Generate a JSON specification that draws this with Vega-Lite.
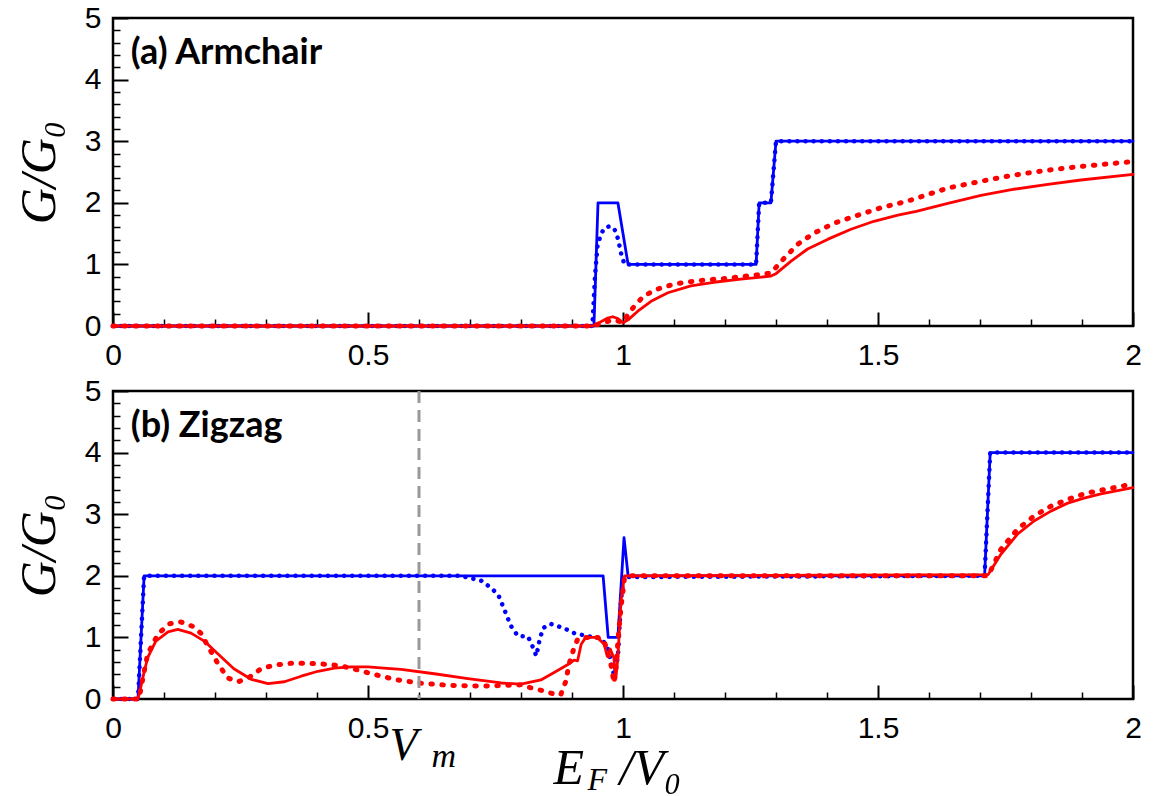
{
  "$schema": "https://vega.github.io/schema/vega-lite/v6.json",
  "background": "white",
  "padding": {"left": 13, "top": 1, "right": 20, "bottom": 4},
  "spacing": 65,
  "bounds": "flush",
  "datasets": {
    "a_bs": [{"x":0,"y":0},{"x":0.943,"y":0},{"x":0.951,"y":2},{"x":0.99,"y":2},{"x":1.01,"y":1},{"x":1.261,"y":1},{"x":1.267,"y":2},{"x":1.29,"y":2},{"x":1.3,"y":3},{"x":2,"y":3}],
    "a_bd": [{"x":0,"y":0},{"x":0.94,"y":0},{"x":0.945,"y":0.8},{"x":0.95,"y":1.3},{"x":0.957,"y":1.5},{"x":0.965,"y":1.6},{"x":0.975,"y":1.62},{"x":0.983,"y":1.58},{"x":0.99,"y":1.42},{"x":0.997,"y":1.15},{"x":1.003,"y":1.0},{"x":1.261,"y":1},{"x":1.267,"y":2},{"x":1.29,"y":2},{"x":1.3,"y":3},{"x":2,"y":3}],
    "a_rs": [{"x":0,"y":0},{"x":0.94,"y":0},{"x":0.955,"y":0.06},{"x":0.97,"y":0.13},{"x":0.98,"y":0.15},{"x":0.99,"y":0.12},{"x":1.0,"y":0.05},{"x":1.01,"y":0.1},{"x":1.029,"y":0.24},{"x":1.055,"y":0.4},{"x":1.088,"y":0.54},{"x":1.133,"y":0.65},{"x":1.178,"y":0.71},{"x":1.231,"y":0.76},{"x":1.29,"y":0.81},{"x":1.3,"y":0.85},{"x":1.329,"y":1.05},{"x":1.362,"y":1.25},{"x":1.402,"y":1.41},{"x":1.447,"y":1.57},{"x":1.492,"y":1.7},{"x":1.539,"y":1.8},{"x":1.575,"y":1.86},{"x":1.637,"y":1.99},{"x":1.702,"y":2.12},{"x":1.767,"y":2.22},{"x":1.833,"y":2.3},{"x":1.898,"y":2.37},{"x":2,"y":2.46}],
    "a_rd": [{"x":0,"y":0},{"x":0.94,"y":0},{"x":0.96,"y":0.05},{"x":0.98,"y":0.1},{"x":1.0,"y":0.06},{"x":1.01,"y":0.19},{"x":1.022,"y":0.32},{"x":1.041,"y":0.49},{"x":1.068,"y":0.6},{"x":1.1,"y":0.68},{"x":1.133,"y":0.72},{"x":1.166,"y":0.75},{"x":1.198,"y":0.77},{"x":1.231,"y":0.8},{"x":1.264,"y":0.83},{"x":1.29,"y":0.86},{"x":1.316,"y":1.1},{"x":1.343,"y":1.33},{"x":1.375,"y":1.51},{"x":1.414,"y":1.67},{"x":1.461,"y":1.8},{"x":1.506,"y":1.92},{"x":1.559,"y":2.03},{"x":1.637,"y":2.24},{"x":1.702,"y":2.35},{"x":1.767,"y":2.45},{"x":1.833,"y":2.53},{"x":1.898,"y":2.59},{"x":2,"y":2.67}],
    "b_bs": [{"x":0,"y":0},{"x":0.049,"y":0},{"x":0.061,"y":2},{"x":0.961,"y":2},{"x":0.971,"y":1},{"x":0.99,"y":1},{"x":1.002,"y":2.62},{"x":1.01,"y":2},{"x":1.709,"y":2},{"x":1.72,"y":4},{"x":2,"y":4}],
    "b_bd": [{"x":0,"y":0},{"x":0.049,"y":0},{"x":0.061,"y":2},{"x":0.68,"y":2},{"x":0.702,"y":1.96},{"x":0.722,"y":1.92},{"x":0.737,"y":1.83},{"x":0.755,"y":1.7},{"x":0.767,"y":1.46},{"x":0.78,"y":1.19},{"x":0.794,"y":1.02},{"x":0.813,"y":1.02},{"x":0.82,"y":0.91},{"x":0.83,"y":0.7},{"x":0.836,"y":0.94},{"x":0.843,"y":1.15},{"x":0.858,"y":1.22},{"x":0.884,"y":1.15},{"x":0.904,"y":1.07},{"x":0.931,"y":1.02},{"x":0.957,"y":0.99},{"x":0.97,"y":0.83},{"x":0.976,"y":0.62},{"x":0.982,"y":0.4},{"x":0.99,"y":0.67},{"x":0.996,"y":1.59},{"x":1.001,"y":1.98},{"x":1.709,"y":2},{"x":1.72,"y":4},{"x":2,"y":4}],
    "b_rs": [{"x":0,"y":0},{"x":0.049,"y":0},{"x":0.052,"y":0.1},{"x":0.06,"y":0.4},{"x":0.068,"y":0.67},{"x":0.084,"y":0.94},{"x":0.108,"y":1.09},{"x":0.127,"y":1.13},{"x":0.153,"y":1.07},{"x":0.179,"y":0.94},{"x":0.206,"y":0.73},{"x":0.237,"y":0.49},{"x":0.271,"y":0.32},{"x":0.304,"y":0.25},{"x":0.336,"y":0.28},{"x":0.369,"y":0.37},{"x":0.402,"y":0.45},{"x":0.434,"y":0.5},{"x":0.467,"y":0.52},{"x":0.5,"y":0.52},{"x":0.531,"y":0.5},{"x":0.565,"y":0.48},{"x":0.63,"y":0.41},{"x":0.696,"y":0.33},{"x":0.761,"y":0.26},{"x":0.8,"y":0.24},{"x":0.839,"y":0.31},{"x":0.865,"y":0.43},{"x":0.892,"y":0.56},{"x":0.904,"y":0.63},{"x":0.911,"y":0.62},{"x":0.918,"y":0.89},{"x":0.927,"y":1.0},{"x":0.95,"y":1.0},{"x":0.963,"y":0.89},{"x":0.969,"y":0.7},{"x":0.975,"y":0.81},{"x":0.982,"y":0.67},{"x":0.986,"y":0.34},{"x":0.99,"y":0.67},{"x":0.996,"y":1.59},{"x":1.003,"y":2.0},{"x":1.716,"y":2.02},{"x":1.741,"y":2.35},{"x":1.774,"y":2.68},{"x":1.806,"y":2.89},{"x":1.839,"y":3.05},{"x":1.872,"y":3.18},{"x":1.904,"y":3.26},{"x":1.937,"y":3.33},{"x":2,"y":3.43}],
    "b_rd": [{"x":0,"y":0},{"x":0.051,"y":0},{"x":0.06,"y":0.4},{"x":0.068,"y":0.73},{"x":0.088,"y":1.05},{"x":0.11,"y":1.22},{"x":0.133,"y":1.25},{"x":0.156,"y":1.18},{"x":0.172,"y":1.07},{"x":0.188,"y":0.83},{"x":0.206,"y":0.57},{"x":0.225,"y":0.34},{"x":0.245,"y":0.28},{"x":0.265,"y":0.34},{"x":0.29,"y":0.49},{"x":0.316,"y":0.55},{"x":0.349,"y":0.58},{"x":0.375,"y":0.58},{"x":0.408,"y":0.57},{"x":0.447,"y":0.54},{"x":0.48,"y":0.47},{"x":0.512,"y":0.4},{"x":0.551,"y":0.32},{"x":0.598,"y":0.26},{"x":0.663,"y":0.22},{"x":0.727,"y":0.21},{"x":0.8,"y":0.23},{"x":0.82,"y":0.18},{"x":0.845,"y":0.13},{"x":0.865,"y":0.08},{"x":0.878,"y":0.07},{"x":0.888,"y":0.29},{"x":0.894,"y":0.56},{"x":0.904,"y":0.83},{"x":0.911,"y":0.97},{"x":0.924,"y":1.0},{"x":0.95,"y":1.0},{"x":0.963,"y":0.94},{"x":0.971,"y":0.73},{"x":0.978,"y":0.5},{"x":0.982,"y":0.26},{"x":0.986,"y":0.45},{"x":0.99,"y":0.94},{"x":0.996,"y":1.48},{"x":1.003,"y":1.97},{"x":1.01,"y":2.0},{"x":1.716,"y":2.0},{"x":1.741,"y":2.43},{"x":1.774,"y":2.76},{"x":1.806,"y":2.97},{"x":1.839,"y":3.13},{"x":1.872,"y":3.24},{"x":1.904,"y":3.33},{"x":1.937,"y":3.39},{"x":2,"y":3.49}],
    "labels_a": [{"x":0.035,"y":4.25,"label":"(a) Armchair"}],
    "labels_b": [{"x":0.035,"y":4.25,"label":"(b) Zigzag"}],
    "vm": [{"x":0.6}]
  },
  "vconcat": [
    {
      "width": 1020,
      "height": 308,
      "resolve": {"axis": {"x": "independent", "y": "independent"}},
      "layer": [
        {
          "data": {"name": "a_bs"},
          "mark": {"type": "line", "color": "#0000ff", "strokeWidth": 2.8, "strokeCap": "round", "strokeJoin": "round"},
          "encoding": {
            "x": {"field": "x", "type": "quantitative", "scale": {"domain": [0, 2]},
                  "axis": {"orient": "bottom", "values": [0, 0.5, 1, 1.5, 2], "format": "~g", "offset": -14, "tickSize": 14, "tickWidth": 2, "labelPadding": 14, "labelFlush": false, "title": null}},
            "y": {"field": "y", "type": "quantitative", "scale": {"domain": [0, 5]},
                  "axis": {"orient": "left", "values": [0, 1, 2, 3, 4, 5], "format": "~g", "offset": -15, "tickSize": 15, "tickWidth": 2, "labelPadding": 12, "title": "G/G₀", "titleFont": "Liberation Serif", "titleFontStyle": "italic", "titleFontWeight": "normal", "titleFontSize": 50, "titlePadding": 20}}
          }
        },
        {
          "data": {"name": "a_bd"},
          "mark": {"type": "line", "color": "#0000ff", "strokeWidth": 4.5, "strokeDash": [0.1, 8], "strokeCap": "round"},
          "encoding": {
            "x": {"field": "x", "type": "quantitative", "scale": {"domain": [0, 2]},
                  "axis": {"orient": "bottom", "values": [0.1,0.2,0.3,0.4,0.6,0.7,0.8,0.9,1.1,1.2,1.3,1.4,1.6,1.7,1.8,1.9], "offset": -7, "tickSize": 7, "tickWidth": 1.5, "labels": false, "title": null}},
            "y": {"field": "y", "type": "quantitative", "scale": {"domain": [0, 5]},
                  "axis": {"orient": "left", "values": [0.2,0.4,0.6,0.8,1.2,1.4,1.6,1.8,2.2,2.4,2.6,2.8,3.2,3.4,3.6,3.8,4.2,4.4,4.6,4.8], "offset": -7, "tickSize": 7, "tickWidth": 1.5, "labels": false, "title": null}}
          }
        },
        {
          "data": {"name": "a_rs"},
          "mark": {"type": "line", "color": "#ff0000", "strokeWidth": 2.8, "strokeCap": "round", "strokeJoin": "round"},
          "encoding": {
            "x": {"field": "x", "type": "quantitative", "scale": {"domain": [0, 2]}, "axis": null},
            "y": {"field": "y", "type": "quantitative", "scale": {"domain": [0, 5]}, "axis": null}
          }
        },
        {
          "data": {"name": "a_rd"},
          "mark": {"type": "line", "color": "#ff0000", "strokeWidth": 5, "strokeDash": [1.5, 9.5], "strokeCap": "round"},
          "encoding": {
            "x": {"field": "x", "type": "quantitative", "scale": {"domain": [0, 2]}, "axis": null},
            "y": {"field": "y", "type": "quantitative", "scale": {"domain": [0, 5]}, "axis": null}
          }
        },
        {
          "data": {"name": "labels_a"},
          "mark": {"type": "text", "align": "left", "baseline": "alphabetic", "font": "Lato", "fontWeight": "bold", "fontSize": 36, "color": "black"},
          "encoding": {
            "x": {"field": "x", "type": "quantitative", "scale": {"domain": [0, 2]}, "axis": null},
            "y": {"field": "y", "type": "quantitative", "scale": {"domain": [0, 5]}, "axis": null},
            "text": {"field": "label"}
          }
        }
      ]
    },
    {
      "width": 1020,
      "height": 308,
      "resolve": {"axis": {"x": "independent", "y": "independent"}},
      "layer": [
        {
          "data": {"name": "b_bs"},
          "mark": {"type": "line", "color": "#0000ff", "strokeWidth": 2.8, "strokeCap": "round", "strokeJoin": "round"},
          "encoding": {
            "x": {"field": "x", "type": "quantitative", "scale": {"domain": [0, 2]},
                  "axis": {"orient": "bottom", "values": [0, 0.5, 1, 1.5, 2], "format": "~g", "offset": -14, "tickSize": 14, "tickWidth": 2, "labelPadding": 14, "labelFlush": false,
                           "title": "E", "titleFont": "Liberation Serif", "titleFontStyle": "italic", "titleFontWeight": "normal", "titleFontSize": 50, "titleAlign": "left", "titleBaseline": "alphabetic", "titleX": 440, "titleY": 98}},
            "y": {"field": "y", "type": "quantitative", "scale": {"domain": [0, 5]},
                  "axis": {"orient": "left", "values": [0, 1, 2, 3, 4, 5], "format": "~g", "offset": -15, "tickSize": 15, "tickWidth": 2, "labelPadding": 12, "title": "G/G₀", "titleFont": "Liberation Serif", "titleFontStyle": "italic", "titleFontWeight": "normal", "titleFontSize": 50, "titlePadding": 20}}
          }
        },
        {
          "data": {"name": "b_bd"},
          "mark": {"type": "line", "color": "#0000ff", "strokeWidth": 4.5, "strokeDash": [0.1, 8], "strokeCap": "round"},
          "encoding": {
            "x": {"field": "x", "type": "quantitative", "scale": {"domain": [0, 2]},
                  "axis": {"orient": "bottom", "values": [0.1,0.2,0.3,0.4,0.6,0.7,0.8,0.9,1.1,1.2,1.3,1.4,1.6,1.7,1.8,1.9], "offset": -7, "tickSize": 7, "tickWidth": 1.5, "labels": false, "title": null}},
            "y": {"field": "y", "type": "quantitative", "scale": {"domain": [0, 5]},
                  "axis": {"orient": "left", "values": [0.2,0.4,0.6,0.8,1.2,1.4,1.6,1.8,2.2,2.4,2.6,2.8,3.2,3.4,3.6,3.8,4.2,4.4,4.6,4.8], "offset": -7, "tickSize": 7, "tickWidth": 1.5, "labels": false, "title": null}}
          }
        },
        {
          "data": {"name": "b_rs"},
          "mark": {"type": "line", "color": "#ff0000", "strokeWidth": 2.8, "strokeCap": "round", "strokeJoin": "round"},
          "encoding": {
            "x": {"field": "x", "type": "quantitative", "scale": {"domain": [0, 2]}, "axis": null},
            "y": {"field": "y", "type": "quantitative", "scale": {"domain": [0, 5]}, "axis": null}
          }
        },
        {
          "data": {"name": "b_rd"},
          "mark": {"type": "line", "color": "#ff0000", "strokeWidth": 5, "strokeDash": [1.5, 9.5], "strokeCap": "round"},
          "encoding": {
            "x": {"field": "x", "type": "quantitative", "scale": {"domain": [0, 2]}, "axis": null},
            "y": {"field": "y", "type": "quantitative", "scale": {"domain": [0, 5]}, "axis": null}
          }
        },
        {
          "data": {"name": "vm"},
          "mark": {"type": "rule", "color": "#999999", "strokeWidth": 3, "strokeDash": [12, 7]},
          "encoding": {
            "x": {"field": "x", "type": "quantitative", "scale": {"domain": [0, 2]},
                  "axis": {"orient": "bottom", "values": [0.6], "ticks": false, "domain": false, "labelExpr": "'V'", "labelFont": "Liberation Serif", "labelFontStyle": "italic", "labelFontSize": 46, "labelAlign": "left", "labelBaseline": "alphabetic", "labelOffset": -30, "labelPadding": 60, "labelFlush": false, "labelColor": "black",
                           "title": "/V₀", "titleFont": "Liberation Serif", "titleFontStyle": "italic", "titleFontWeight": "normal", "titleFontSize": 50, "titleAlign": "left", "titleBaseline": "alphabetic", "titleX": 506, "titleY": 84}}
          }
        },
        {
          "data": {"name": "labels_b"},
          "mark": {"type": "text", "align": "left", "baseline": "alphabetic", "font": "Lato", "fontWeight": "bold", "fontSize": 36, "color": "black"},
          "encoding": {
            "x": {"field": "x", "type": "quantitative", "scale": {"domain": [0, 2]},
                  "axis": {"orient": "bottom", "values": [0.6], "ticks": false, "domain": false, "labelExpr": "'m'", "labelFont": "Liberation Serif", "labelFontStyle": "italic", "labelFontSize": 34, "labelAlign": "left", "labelBaseline": "alphabetic", "labelOffset": 12, "labelPadding": 67, "labelFlush": false, "labelColor": "black",
                           "title": "F", "titleFont": "Liberation Serif", "titleFontStyle": "italic", "titleFontWeight": "normal", "titleFontSize": 32, "titleAlign": "left", "titleBaseline": "alphabetic", "titleX": 474, "titleY": 90}},
            "y": {"field": "y", "type": "quantitative", "scale": {"domain": [0, 5]}, "axis": null},
            "text": {"field": "label"}
          }
        }
      ]
    }
  ],
  "config": {
    "view": {"stroke": "black", "strokeWidth": 2.5},
    "axis": {"grid": false, "domain": false, "labelFont": "Liberation Sans", "labelFontSize": 30, "labelColor": "black", "tickColor": "black", "titleColor": "black"}
  }
}
